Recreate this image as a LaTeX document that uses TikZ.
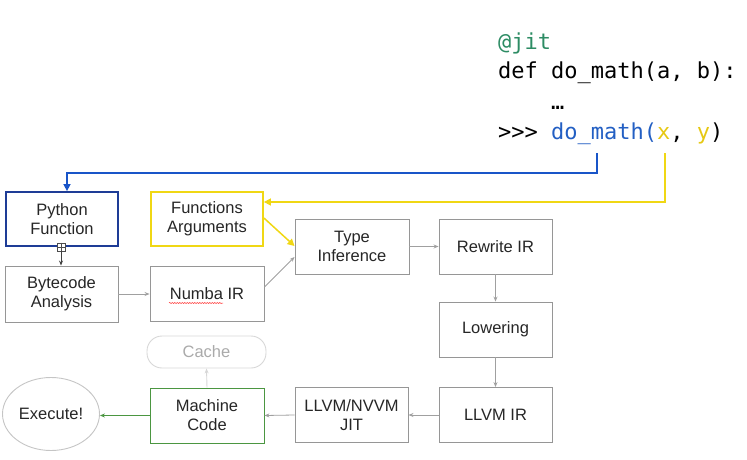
\documentclass[tikz,border=0pt]{standalone}
\usepackage{fontspec}
\setmainfont{Liberation Sans}
\newfontfamily\codefont{DejaVu Sans Mono}
\usetikzlibrary{arrows.meta,shapes.geometric,decorations.pathmorphing}
\definecolor{boxgray}{RGB}{150,150,150}
\definecolor{pyblue}{RGB}{30,60,150}
\definecolor{lineblue}{RGB}{25,85,200}
\definecolor{argyellow}{RGB}{240,215,20}
\definecolor{mcgreen}{RGB}{75,150,65}
\definecolor{jitgreen}{RGB}{45,140,100}
\definecolor{codeblue}{RGB}{35,95,195}
\definecolor{codeyellow}{RGB}{230,200,20}
\definecolor{cachegray}{RGB}{215,215,215}
\definecolor{cachetext}{RGB}{170,170,170}
\tikzset{
  stepbox/.style={draw=boxgray, line width=0.9pt, minimum width=114pt, minimum height=55pt,
    inner sep=0pt, align=center, font=\fontsize{16.5}{19}\selectfont, text=black!85},
  garrow/.style={draw=boxgray!90, line width=0.8pt, -{Stealth[length=5pt,width=4pt]}},
  codeline/.style={anchor=base west, inner sep=0pt, font=\codefont\fontsize{22}{26}\selectfont}
}
\begin{document}
\begin{tikzpicture}[x=1pt,y=-1pt]
\useasboundingbox (0,0) rectangle (747,460);
% code
\node[codeline, text=jitgreen] (c1) at (498,49) {@jit};
\node[codeline] (c2) at (498,78) {def do\_math(a, b):};
\node[codeline] (c3) at (498,109) {\phantom{def }…};
\node[codeline] (c4) at (498,139) {>>> \textcolor{codeblue}{do\_math(}\textcolor{codeyellow}{x}, \textcolor{codeyellow}{y})};
\coordinate (bstart) at (597,153);
\coordinate (ystart) at (665,153);
% boxes
\node[stepbox, draw=pyblue, line width=1.8pt, minimum width=112pt, minimum height=54pt] (py) at (62,219) {Python\\Function};
\node[stepbox, draw=argyellow, line width=1.8pt, minimum width=112pt, minimum height=54pt] (args) at (207,219) {Functions\\Arguments};
\node[stepbox] (ti) at (352,246.5) {Type\\Inference};
\node[stepbox, minimum width=113pt, minimum height=56pt] (bc) at (61.5,294) {Bytecode\\Analysis};
\node[stepbox] (nir) at (207,293.5) {Numba IR};
\node[stepbox, minimum width=113pt] (rw) at (495.5,246.5) {Rewrite IR};
\node[stepbox, minimum width=113pt] (low) at (495.5,329.5) {Lowering};
\node[stepbox, minimum width=113pt] (llvm) at (495.5,415) {LLVM IR};
\node[stepbox, minimum width=113pt] (jit) at (351.5,415) {LLVM/NVVM\\JIT};
\node[stepbox, draw=mcgreen] (mc) at (207,415.5) {Machine\\Code};
\node[stepbox, draw=cachegray, text=cachetext, rounded corners=15pt, minimum width=119pt, minimum height=32pt] (cache) at (206.5,352) {Cache};
\node[stepbox, ellipse, draw=cachegray!80!gray, minimum width=97pt, minimum height=73pt] (exe) at (51,414) {Execute!};
% spell-check squiggle
\draw[red!80, line width=0.5pt, decorate, decoration={snake, amplitude=0.6pt, segment length=2.5pt}] (169,303) -- (223,303);
% connectors from code
\draw[lineblue, line width=1.5pt, -{Triangle[length=7pt,width=7pt]}] (bstart) |- (67,173) -- (py.north -| 67,0);
\draw[argyellow, line width=1.5pt, -{Triangle[length=7pt,width=7pt]}] (ystart) |- (args.east |- 0,202);
% flow
\draw[argyellow, line width=1.5pt, -{Triangle[length=7pt,width=7pt]}] (args.east |- 0,218) -- (ti.west |- 0,246);
\draw[garrow] (nir.east |- 0,287) -- (ti.west |- 0,257);
\node[draw=black!70, fill=white, line width=0.6pt, minimum size=8pt, inner sep=0pt] (plus) at (61,247) {};
\draw[black!70, line width=0.6pt] (plus.north) -- (plus.south) (plus.west) -- (plus.east);
\draw[black!75, line width=0.8pt, -{Stealth[length=5pt,width=4pt]}] (plus.south) -- (bc.north -| plus.south);
\draw[garrow] (bc.east |- 0,294) -- (nir.west |- 0,294);
\draw[garrow] (ti.east) -- (rw.west);
\draw[garrow] (rw.south) -- (low.north);
\draw[garrow] (low.south) -- (llvm.north);
\draw[garrow] (llvm.west) -- (jit.east);
\draw[garrow] (jit.west) -- (mc.east);
\draw[draw=mcgreen, line width=0.9pt, -{Stealth[length=5pt,width=4pt]}] (mc.west) -- (exe.east |- mc.west);
\draw[draw=cachegray, line width=0.9pt, -{Stealth[length=5pt,width=4pt]}] (mc.north) -- (cache.south);
\end{tikzpicture}
\end{document}
